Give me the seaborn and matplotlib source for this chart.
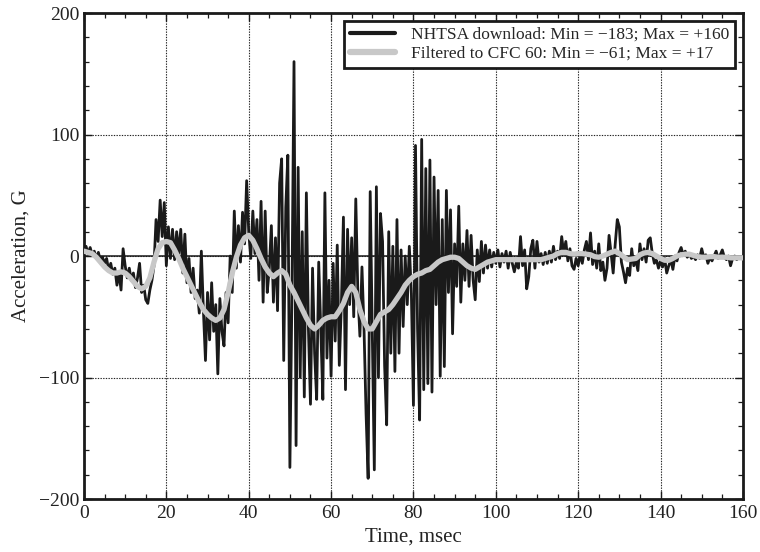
import numpy as np
import pandas as pd
import matplotlib
matplotlib.use("Agg")
import matplotlib.pyplot as plt
from matplotlib.ticker import MultipleLocator
import seaborn as sns

# Raw NHTSA acceleration (G), sampled every 0.5 ms from 0 to 160 ms
raw_step = 0.5
raw_values = [
    5, 8, 2, 7, 1, 4, -2, 3, -4, -1,
    -6, -2, -12, -6, -15, -10, -24, -14, -28, 6,
    -8, -18, -10, -20, -14, -26, -18, -6, -30, -24,
    -36, -39, -28, -20, -8, 30, 12, 46, 16, 44,
    -8, 24, -2, 22, -3, 20, 2, 22, -14, 18,
    -22, -2, -30, -10, -35, -28, -47, 4, -45, -86,
    -30, -69, -22, -62, -40, -97, -35, -62, -74, -30,
    -55, 0, -30, 37, -10, 25, -5, 36, 10, 62,
    20, -2, 37, 2, 30, -20, 45, -38, 37, -30,
    -10, 25, -38, 15, -45, 60, 80, -86, 40, 83,
    -174, -30, 160, -156, 73, -100, 20, -116, 52, -60,
    -122, -10, -80, -118, -5, -60, -118, 52, -84, -20,
    -99, -6, -70, 9, -90, -40, 32, -110, 22, -40,
    15, -50, 47, -30, -66, -9, -60, -130, -183, 53,
    -60, -176, 57, -100, 35, 12, -90, -139, 20, -80,
    8, -95, 30, -80, 5, -58, 0, -40, 8, -31,
    -123, 91, -60, -135, 96, -110, 72, -105, 79, -112,
    65, -40, 54, -99, 30, -91, 54, -30, 38, -64,
    10, -25, 41, -38, 10, -20, 21, -25, 17, -20,
    -36, 5, -21, 12, -14, 9, -10, 5, -9, 3,
    -6, 5, -9, 2, -5, 4, -10, 3, -6, -13,
    -5, -10, 16, -8, 5, -27, -17, 6, 13, -10,
    12, -5, 2, -7, 3, -6, 4, -5, 8, -3,
    4, -2, 16, 2, 12, -4, 6, -8, -11, -2,
    -8, 2, -6, 5, 12, -3, 19, -7, 4, -10,
    10, -12, -5, -20, -10, 17, 2, -14, 10, 30,
    24, -5, -13, -22, -10, -16, 6, -8, -3, -12,
    10, -3, 6, -5, 13, 15, 2, -6, -3, -10,
    -4, -9, -2, -14, -8, -3, -11, 0, -4, 3,
    7, 1, 4, -1, 2, -2, 0, -3, 1, -2,
    6, -1, 1, -6, -1, -4, 0, 4, -2, 1,
    5, -1, -3, 0, -8, -2, 0, -3, -1, -2,
    -2,
]

# CFC 60 filtered acceleration (G), every 1 ms from 0 to 160 ms
filt_step = 1.0
filt_values = [
    4, 3, 2, -1, -5, -9, -12, -14, -14, -13,
    -14, -17, -21, -25, -27, -25, -18, -5, 6, 11,
    12, 11, 5, -2, -10, -17, -24, -31, -38, -44,
    -48, -51, -53, -51, -44, -30, -14, -1, 9, 15,
    17, 13, 6, -2, -9, -14, -17, -14, -12, -15,
    -24, -30, -37, -44, -51, -57, -60, -57, -53, -51,
    -50, -50, -45, -39, -30, -25, -30, -44, -54, -60,
    -60, -54, -48, -46, -44, -40, -35, -30, -24, -20,
    -17, -15, -14, -12, -11, -8, -5, -3, -2, -1,
    -1, -2, -5, -8, -10, -11, -9, -7, -5, -4,
    -3, -3, -3, -3, -3, -3, -3, -3, -3, -3,
    -3, -3, -2, -1, 0, 2, 3, 3, 2, 1.5,
    2, 2, 1.5, 1, -0.5, -1, 0, 1.5, 3, 4,
    2, -0.5, -3, -2.5, -2, 1, 2.5, 3, 2, 0,
    -2, -3.5, -3.5, -2, 0, 1, 1.5, 1.5, 0.5, -0.5,
    -1, -1, -0.5, -0.5, -1, -1, -1, -1.5, -1.5, -1.5,
    -1.5,
]

raw_label = "NHTSA download: Min = \u2212183; Max = +160"
filt_label = "Filtered to CFC 60: Min = \u221261; Max = +17"
x_label = "Time, msec"
y_label = "Acceleration, G"
x_ticks = [0, 20, 40, 60, 80, 100, 120, 140, 160]
y_ticks = [-200, -100, 0, 100, 200]

raw_df = pd.DataFrame({"t": np.arange(len(raw_values)) * raw_step, "g": raw_values})
filt_df = pd.DataFrame({"t": np.arange(len(filt_values)) * filt_step, "g": filt_values})

sns.set_theme(style="ticks")
plt.rcParams["font.family"] = ["Liberation Serif", "DejaVu Serif"]
plt.rcParams["axes.unicode_minus"] = True

fig = plt.figure(figsize=(7.6, 5.52), dpi=100)
ax = fig.add_axes([0.1105, 0.096, 0.867, 0.8804])

ax.axhline(0, color="#1a1a1a", lw=1.1, zorder=1.5)
sns.lineplot(data=raw_df, x="t", y="g", ax=ax, color="#1a1a1a", lw=2.0,
             estimator=None, label=raw_label, zorder=2)
sns.lineplot(data=filt_df, x="t", y="g", ax=ax, color="#c8c8c8", lw=3.8,
             estimator=None, label=filt_label, zorder=3)

ax.set_xlim(0, 160)
ax.set_ylim(-200, 200)
ax.set_xticks(x_ticks)
ax.set_yticks(y_ticks)
ax.set_xticklabels([str(v) for v in x_ticks])
ax.set_yticklabels([str(v).replace("-", "\u2212") for v in y_ticks])
ax.xaxis.set_minor_locator(MultipleLocator(5))
ax.yaxis.set_minor_locator(MultipleLocator(20))
ax.tick_params(which="both", direction="in", top=True, right=True,
               colors="#1a1a1a", labelsize=14, labelcolor="#222222")
ax.tick_params(which="major", length=6, width=1)
ax.tick_params(which="minor", length=3.5, width=0.9)
ax.tick_params(axis="x", pad=4)

ax.grid(True, which="major", color="#222222", linestyle=(0, (1.2, 1.2)), lw=0.8)
ax.set_axisbelow(True)
for s in ax.spines.values():
    s.set_linewidth(2.0)
    s.set_color("#1a1a1a")

ax.set_xlabel(x_label, fontsize=15, color="#222222", labelpad=4)
ax.set_ylabel(y_label, fontsize=15, color="#222222", labelpad=6)

leg = ax.legend(loc="upper right", fontsize=12.5, frameon=True, fancybox=False,
                handlelength=2.6, borderpad=0.35, labelspacing=0.15,
                handletextpad=0.9, borderaxespad=0.45)
leg.get_frame().set_edgecolor("#1a1a1a")
leg.get_frame().set_linewidth(2.0)
leg.get_frame().set_alpha(1)
for line in leg.get_lines():
    line.set_linewidth(3.0 if line.get_color() != "#c8c8c8" else 4.5)

fig.savefig("out.png", dpi=100)
